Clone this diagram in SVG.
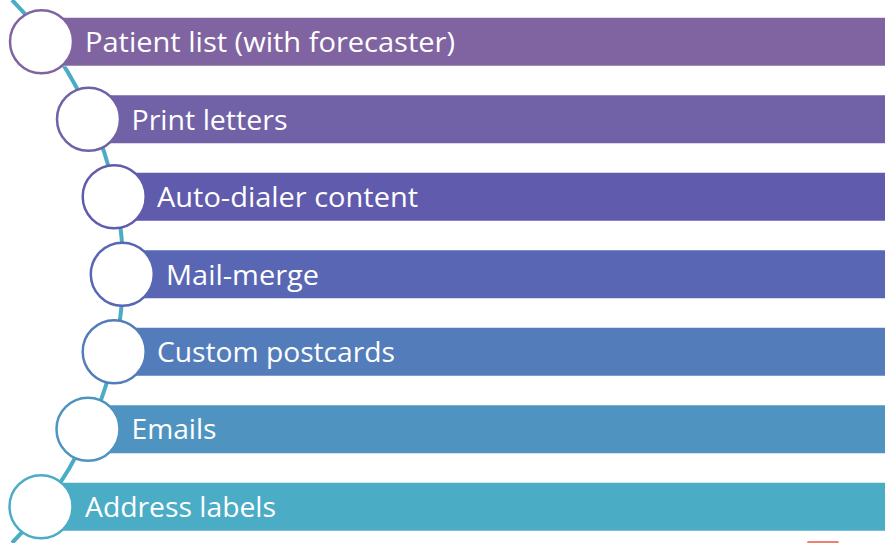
<svg xmlns="http://www.w3.org/2000/svg" width="885" height="543" viewBox="0 0 885 543">
<style>
.bar{stroke:#ffffff;stroke-opacity:0.5;stroke-width:1}
.dot{fill:#ffffff;stroke-width:2.5}
.lbl{font-family:"Open Sans","Noto Sans",sans-serif;font-size:27px;fill:#ffffff}
</style>
<rect width="885" height="543" fill="#ffffff"/>
<g id="connectors">
<path d="M 12 0 A 387.5 387.5 0 0 1 12 543" fill="none" stroke="#4BACC6" stroke-width="4"/>
</g>
<g id="n1">
<rect class="bar" x="41" y="17.5" width="846" height="48.5" fill="#8064A2"/>
<circle class="dot" cx="41.5" cy="41.75" r="31.5" stroke="#8064A2"/>
<text class="lbl" x="85" y="52" textLength="370" lengthAdjust="spacingAndGlyphs">Patient list (with forecaster)</text>
</g>
<g id="n2">
<rect class="bar" x="88" y="95" width="799" height="48.5" fill="#7161A7"/>
<circle class="dot" cx="88.5" cy="119.25" r="31.5" stroke="#7161A7"/>
<text class="lbl" x="131.5" y="129.5" textLength="156" lengthAdjust="spacingAndGlyphs">Print letters</text>
</g>
<g id="n3">
<rect class="bar" x="114" y="172.5" width="773" height="48.5" fill="#605BAC"/>
<circle class="dot" cx="114.2" cy="196.75" r="31.5" stroke="#605BAC"/>
<text class="lbl" x="157" y="207" textLength="261" lengthAdjust="spacingAndGlyphs">Auto-dialer content</text>
</g>
<g id="n4">
<rect class="bar" x="122" y="250" width="765" height="48.5" fill="#5866B4"/>
<circle class="dot" cx="122.3" cy="274.25" r="31.5" stroke="#5866B4"/>
<text class="lbl" x="166" y="284.5" textLength="153" lengthAdjust="spacingAndGlyphs">Mail-merge</text>
</g>
<g id="n5">
<rect class="bar" x="114" y="327.5" width="773" height="48.5" fill="#537CBB"/>
<circle class="dot" cx="114.2" cy="351.75" r="31.5" stroke="#537CBB"/>
<text class="lbl" x="157" y="362" textLength="238" lengthAdjust="spacingAndGlyphs">Custom postcards</text>
</g>
<g id="n6">
<rect class="bar" x="88" y="405" width="799" height="48.5" fill="#4F94C1"/>
<circle class="dot" cx="88" cy="429.25" r="31.5" stroke="#4F94C1"/>
<text class="lbl" x="131.5" y="439" textLength="85" lengthAdjust="spacingAndGlyphs">Emails</text>
</g>
<g id="n7">
<rect class="bar" x="41" y="482.5" width="846" height="48.5" fill="#4BACC6"/>
<circle class="dot" cx="41" cy="506.75" r="31.5" stroke="#4BACC6"/>
<text class="lbl" x="85" y="516.5" textLength="191" lengthAdjust="spacingAndGlyphs">Address labels</text>
</g>
<rect x="807" y="541" width="32" height="3" rx="1.5" fill="#F08070"/>
</svg>
